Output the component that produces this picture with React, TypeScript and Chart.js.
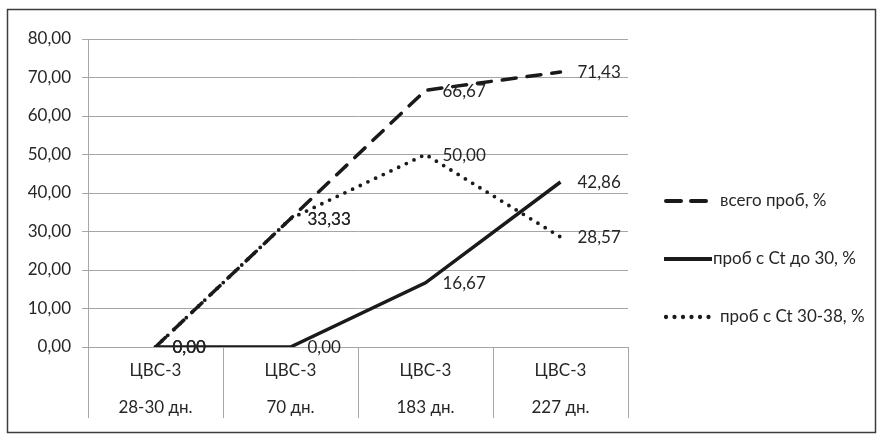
import React, { useEffect, useRef } from "react";
import { Chart, registerables } from "chart.js";

Chart.register(...registerables);

const categoryTop = ["ЦВС-3", "ЦВС-3", "ЦВС-3", "ЦВС-3"];
const categoryBottom = ["28-30 дн.", "70 дн.", "183 дн.", "227 дн."];
const seriesNames = ["всего проб, %", "проб с Ct до 30, %", "проб с Ct 30-38, %"];
const totalValues = [0, 33.33, 66.67, 71.43];
const ct30Values = [0, 0, 16.67, 42.86];
const ct3038Values = [0, 33.33, 50.0, 28.57];
const yMin = 0;
const yMax = 80;
const yStep = 10;

const FONT = "Lato";
const TEXT = "#262626";
const GRID = "#a6a6a6";
const LINE = "#1a1a1a";

const fmt = (v: number) => v.toFixed(2).replace(".", ",");

const extrasPlugin = {
  id: "extras",
  afterDraw(chart: any) {
    const ctx = chart.ctx;
    const area = chart.chartArea;
    const xs = chart.scales.x;
    ctx.save();
    // outer frame
    ctx.strokeStyle = "#3c3c3c";
    ctx.lineWidth = 1.5;
    ctx.strokeRect(7.5, 9.5, 868, 423);

    // category dividers
    ctx.strokeStyle = GRID;
    ctx.lineWidth = 1;
    const n = categoryTop.length;
    const w = (area.right - area.left) / n;
    for (let i = 0; i <= n; i++) {
      const x = Math.round(area.left + i * w) + 0.5;
      ctx.beginPath();
      ctx.moveTo(x, area.bottom);
      ctx.lineTo(x, area.bottom + 71);
      ctx.stroke();
    }
    // category labels
    ctx.fillStyle = TEXT;
    ctx.font = `17px ${FONT}`;
    ctx.textAlign = "center";
    ctx.textBaseline = "middle";
    for (let i = 0; i < n; i++) {
      const cx = xs.getPixelForValue(i);
      ctx.fillText(categoryTop[i], cx, area.bottom + 24);
      ctx.fillText(categoryBottom[i], cx, area.bottom + 61);
    }

    // data labels
    ctx.textAlign = "left";
    chart.data.datasets.forEach((ds: any, di: number) => {
      const meta = chart.getDatasetMeta(di);
      meta.data.forEach((pt: any, i: number) => {
        ctx.fillText(fmt(ds.data[i]), pt.x + 17, pt.y + 1);
      });
    });

    // legend
    const legendY = [201, 259, 317];
    chart.data.datasets.forEach((ds: any, di: number) => {
      const y = legendY[di];
      ctx.save();
      ctx.strokeStyle = ds.borderColor;
      ctx.lineWidth = ds.borderWidth + 0.5;
      ctx.lineCap = ds.borderCapStyle;
      ctx.setLineDash(di === 0 ? [15, 10] : ds.borderDash);
      ctx.beginPath();
      ctx.moveTo(di === 1 ? 664 : 666, y);
      ctx.lineTo(di === 1 ? 712 : 709, y);
      ctx.stroke();
      ctx.restore();
      ctx.fillStyle = TEXT;
      ctx.font = `17px ${FONT}`;
      ctx.textAlign = "left";
      ctx.textBaseline = "middle";
      ctx.fillText(ds.label, di === 1 ? 713 : 720, y);
    });
    ctx.restore();
  },
};

export default function App() {
  const ref = useRef<HTMLCanvasElement | null>(null);
  useEffect(() => {
    if (!ref.current) return;
    const chart = new Chart(ref.current, {
      type: "line",
      data: {
        labels: categoryBottom,
        datasets: [
          {
            label: seriesNames[0],
            data: totalValues,
            borderColor: LINE,
            borderWidth: 3.5,
            borderDash: [14, 11],
            borderCapStyle: "round",
            pointRadius: 0,
            tension: 0,
          },
          {
            label: seriesNames[1],
            data: ct30Values,
            borderColor: LINE,
            borderWidth: 3.5,
            borderDash: [],
            borderCapStyle: "butt",
            pointRadius: 0,
            tension: 0,
          },
          {
            label: seriesNames[2],
            data: ct3038Values,
            borderColor: LINE,
            borderWidth: 3.8,
            borderDash: [0, 8.5],
            borderCapStyle: "round",
            pointRadius: 0,
            tension: 0,
          },
        ],
      },
      options: {
        animation: false,
        responsive: true,
        maintainAspectRatio: false,
        layout: { padding: { left: 0, top: 39, right: 249, bottom: 87 } },
        plugins: { legend: { display: false }, tooltip: { enabled: false } },
        scales: {
          x: { display: false, offset: true },
          y: {
            min: yMin,
            max: yMax,
            afterFit: (s: any) => {
              s.width = 88;
            },
            ticks: {
              stepSize: yStep,
              padding: 11,
              color: TEXT,
              font: { family: FONT, size: 17 },
              callback: (v: any) => fmt(Number(v)),
            },
            grid: { color: GRID, lineWidth: 1, tickLength: 6 },
            border: { color: GRID, width: 1 },
          },
        },
      },
      plugins: [extrasPlugin],
    });
    return () => chart.destroy();
  }, []);
  return (
    <div style={{ position: "absolute", left: 0, top: 0, width: 877, height: 434 }}>
      <canvas ref={ref} />
    </div>
  );
}
